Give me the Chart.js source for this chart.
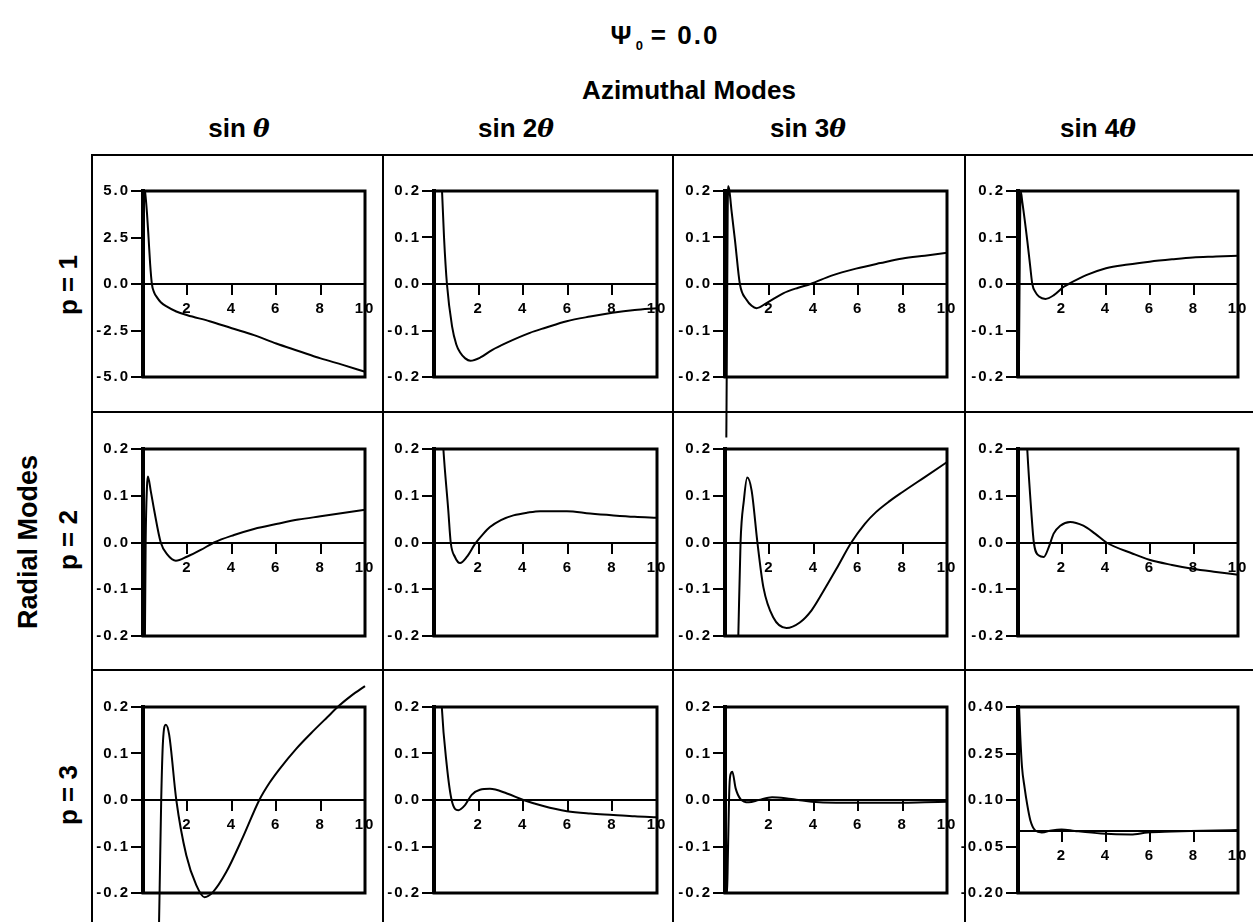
<!DOCTYPE html>
<html>
<head>
<meta charset="utf-8">
<script src="https://cdn.jsdelivr.net/npm/chart.js@4.4.0/dist/chart.umd.min.js"></script>
<style>
  html, body { margin: 0; padding: 0; background: #fff; overflow: hidden; }
  body { width: 1253px; height: 922px; position: relative; font-family: "Liberation Sans", Arial, sans-serif; font-weight: bold; color: #000; }
  .t { position: absolute; transform: translate(-50%, -50%); white-space: nowrap; font-size: 26px; }
  .v { position: absolute; transform: translate(-50%, -50%) rotate(-90deg); white-space: nowrap; font-size: 26px; }
  .t i { font-family: "DejaVu Serif", serif; font-size: 25px; }
  .t sub { font-size: 13px; vertical-align: -6px; margin-left: 2px; margin-right: 6px; }
  .hl { position: absolute; height: 2px; background: #000; z-index: 2; }
  .vl { position: absolute; width: 2px; background: #000; z-index: 2; }
  canvas { position: absolute; z-index: 1; }
</style>
</head>
<body>

<div class="t" style="left:665px; top:36px; letter-spacing:2px;">&Psi;<sub>0</sub>= 0.0</div>
<div class="t" style="left:689px; top:90px;">Azimuthal Modes</div>
<div class="t" style="left:239px; top:128px;">sin <i>&theta;</i></div>
<div class="t" style="left:516px; top:128px;">sin 2<i>&theta;</i></div>
<div class="t" style="left:808px; top:128px;">sin 3<i>&theta;</i></div>
<div class="t" style="left:1098px; top:128px;">sin 4<i>&theta;</i></div>
<div class="v" style="left:28px; top:542px; font-size:27px;">Radial Modes</div>
<div class="v" style="left:68px; top:285px;">p = 1</div>
<div class="v" style="left:68px; top:540px;">p = 2</div>
<div class="v" style="left:68px; top:795px;">p = 3</div>

<div class="hl" style="left:91px; top:154px; width:1162px;"></div>
<div class="hl" style="left:91px; top:411px; width:1162px;"></div>
<div class="hl" style="left:91px; top:669px; width:1162px;"></div>
<div class="vl" style="left:91px; top:154px; height:768px;"></div>
<div class="vl" style="left:382px; top:154px; height:768px;"></div>
<div class="vl" style="left:672px; top:154px; height:768px;"></div>
<div class="vl" style="left:964px; top:154px; height:768px;"></div>

<script>
// tick values
const xTicks = [2, 4, 6, 8, 10];
const yTicks5 = [-5, -2.5, 0, 2.5, 5];
const yTicks02 = [-0.2, -0.1, 0, 0.1, 0.2];
const yTicks04 = [-0.2, -0.05, 0.1, 0.25, 0.4];

// p = 1
const p1sin1X = [0.05, 0.1, 0.18, 0.25, 0.32, 0.4, 0.5, 0.63, 0.8, 1.08, 1.5, 2, 3, 4, 5, 6, 7, 8, 9, 10];
const p1sin1Y = [5.3, 4.9, 3.8, 2.5, 1.1, 0.0, -0.45, -0.72, -0.98, -1.22, -1.48, -1.68, -2.0, -2.38, -2.75, -3.2, -3.6, -4.0, -4.35, -4.72];
const p1sin2X = [0.3, 0.36, 0.45, 0.58, 0.81, 1.0, 1.18, 1.4, 1.63, 2.08, 2.6, 3.27, 4.3, 5.0, 5.95, 7.0, 8.0, 9.0, 10];
const p1sin2Y = [0.25, 0.2, 0.1, 0.0, -0.091, -0.13, -0.148, -0.16, -0.165, -0.158, -0.142, -0.126, -0.105, -0.094, -0.08, -0.07, -0.062, -0.056, -0.052];
const p1sin3X = [0.06, 0.09, 0.12, 0.15, 0.2, 0.3, 0.45, 0.67, 0.97, 1.2, 1.42, 1.87, 2.62, 3.3, 3.85, 4.8, 5.9, 7.0, 8.0, 9.0, 10];
const p1sin3Y = [-0.33, -0.1, 0.15, 0.21, 0.2, 0.155, 0.094, 0.0, -0.034, -0.047, -0.052, -0.041, -0.02, -0.008, 0.0, 0.018, 0.033, 0.045, 0.055, 0.061, 0.067];
const p1sin4X = [0.03, 0.08, 0.12, 0.2, 0.42, 0.55, 0.65, 0.8, 0.95, 1.25, 1.63, 2.08, 2.3, 3.1, 4.0, 5.0, 5.98, 7.0, 7.95, 9.0, 10];
const p1sin4Y = [-0.25, 0.05, 0.2, 0.175, 0.094, 0.04, 0.0, -0.018, -0.027, -0.032, -0.024, -0.006, 0.0, 0.019, 0.034, 0.042, 0.048, 0.053, 0.057, 0.059, 0.061];

// p = 2
const p2sin1X = [0.08, 0.12, 0.18, 0.22, 0.35, 0.5, 0.8, 1.1, 1.48, 2.0, 2.6, 3.2, 4.1, 5.0, 6.06, 7.0, 8.0, 9.0, 10];
const p2sin1Y = [-0.25, 0.0, 0.12, 0.141, 0.11, 0.07, 0.0, -0.026, -0.039, -0.03, -0.016, 0.0, 0.016, 0.029, 0.04, 0.049, 0.056, 0.063, 0.07];
const p2sin2X = [0.35, 0.42, 0.64, 0.75, 0.94, 1.17, 1.47, 1.84, 2.2, 2.51, 3.0, 3.56, 4.2, 4.76, 5.96, 7.0, 8.05, 9.0, 10];
const p2sin2Y = [0.26, 0.2, 0.069, 0.0, -0.031, -0.044, -0.031, -0.003, 0.018, 0.033, 0.048, 0.058, 0.064, 0.067, 0.067, 0.062, 0.058, 0.055, 0.053];
const p2sin3X = [0.55, 0.6, 0.7, 0.85, 1.0, 1.2, 1.46, 1.73, 2.17, 2.77, 3.37, 3.9, 4.41, 5.0, 5.69, 6.3, 6.8, 7.4, 8.0, 9.0, 10];
const p2sin3Y = [-0.3, -0.2, 0.0, 0.09, 0.139, 0.111, 0.0, -0.096, -0.16, -0.183, -0.171, -0.145, -0.106, -0.058, 0.0, 0.04, 0.065, 0.088, 0.108, 0.14, 0.172];
const p2sin4X = [0.35, 0.42, 0.6, 0.72, 0.95, 1.17, 1.4, 1.62, 1.92, 2.37, 2.97, 3.5, 4.02, 5.22, 5.97, 7.0, 7.93, 9.0, 10];
const p2sin4Y = [0.27, 0.2, 0.069, 0.0, -0.028, -0.031, -0.01, 0.019, 0.036, 0.044, 0.036, 0.019, 0.0, -0.024, -0.037, -0.048, -0.056, -0.063, -0.069];

// p = 3
const p3sin1X = [0.69, 0.75, 0.82, 0.9, 1.03, 1.18, 1.5, 1.95, 2.4, 2.77, 3.15, 3.75, 4.5, 5.24, 5.7, 6.14, 6.9, 7.64, 8.3, 8.84, 9.4, 10];
const p3sin1Y = [-0.35, -0.191, 0.0, 0.126, 0.162, 0.14, 0.0, -0.119, -0.183, -0.209, -0.198, -0.155, -0.08, 0.0, 0.037, 0.066, 0.11, 0.147, 0.178, 0.203, 0.225, 0.245];
const p3sin2X = [0.3, 0.35, 0.57, 0.79, 1.09, 1.39, 1.69, 2.06, 2.51, 3.27, 4.01, 4.9, 5.96, 7.0, 8.05, 9.0, 10];
const p3sin2Y = [0.26, 0.2, 0.076, 0.0, -0.022, -0.011, 0.011, 0.022, 0.024, 0.014, 0.0, -0.013, -0.024, -0.029, -0.032, -0.035, -0.037];
const p3sin3X = [0.03, 0.06, 0.09, 0.13, 0.2, 0.27, 0.33, 0.48, 0.7, 1.07, 1.52, 2.12, 2.72, 3.3, 3.91, 5.0, 5.86, 7.0, 7.95, 9.0, 10];
const p3sin3Y = [0.0, -0.15, -0.205, -0.12, 0.03, 0.058, 0.061, 0.025, 0.002, -0.005, 0.0, 0.006, 0.004, 0.0, -0.004, -0.006, -0.006, -0.006, -0.006, -0.005, -0.004];
const p3sin4X = [0.02, 0.1, 0.18, 0.3, 0.41, 0.56, 0.78, 1.08, 1.53, 1.98, 2.58, 3.78, 5.13, 5.89, 7.0, 7.84, 9.0, 10];
const p3sin4Y = [0.45, 0.31, 0.208, 0.14, 0.089, 0.035, 0.002, -0.005, 0.002, 0.005, 0.0, -0.008, -0.011, -0.005, -0.002, 0.0, 0.002, 0.003];

// layout (pixels)
const colEdges = [92, 383, 673, 965, 1253];
const rowEdges = [155, 412, 670, 922];
const boxLeft = [143, 434, 725, 1018];
const boxRight = [365, 657, 947, 1238];
const boxTop = [191, 449, 707];
const boxBottom = [377, 636, 893];
const M = 30;   // canvas margin around each cell
const YW = 70;  // y axis width

const tickFont = { family: "'Liberation Sans', Arial, sans-serif", size: 15, weight: 'bold' };

const frame = {
  id: 'frame',
  beforeUpdate(chart) { chart.ctx.letterSpacing = '2px'; },
  beforeDraw(chart) { chart.ctx.letterSpacing = '2px'; },
  afterDraw(chart) {
    const { ctx, chartArea: a } = chart;
    ctx.save();
    ctx.strokeStyle = '#000';
    ctx.lineWidth = 3;
    ctx.strokeRect(a.left, a.top, a.right - a.left, a.bottom - a.top);
    ctx.restore();
  }
};

function makePanel(r, c, xs, ys, yTicks, digits, clip) {
  const canvas = document.createElement('canvas');
  const left = colEdges[c] - M, top = rowEdges[r] - M;
  const w = colEdges[c + 1] - colEdges[c] + 2 * M;
  const h = rowEdges[r + 1] - rowEdges[r] + 2 * M;
  canvas.width = w;
  canvas.height = h;
  canvas.style.left = left + 'px';
  canvas.style.top = top + 'px';
  document.body.appendChild(canvas);

  new Chart(canvas, {
    type: 'line',
    data: {
      datasets: [{
        data: xs.map((x, i) => ({ x: x, y: ys[i] })),
        borderColor: '#000',
        borderWidth: 2,
        pointRadius: 0,
        cubicInterpolationMode: 'monotone',
        fill: false,
        clip: clip
      }]
    },
    options: {
      responsive: false,
      animation: false,
      events: [],
      layout: {
        padding: {
          left: boxLeft[c] - left - YW,
          right: left + w - boxRight[c],
          top: boxTop[r] - top,
          bottom: top + h - boxBottom[r]
        }
      },
      plugins: { legend: { display: false }, tooltip: { enabled: false } },
      scales: {
        x: {
          type: 'linear',
          min: 0,
          max: 10,
          position: { y: 0 },
          afterBuildTicks: s => { s.ticks = xTicks.map(v => ({ value: v })); },
          grid: { drawOnChartArea: false, tickLength: 10, lineWidth: 2, color: '#000' },
          border: { color: '#000', width: 2 },
          ticks: { color: '#000', font: tickFont, padding: 6, maxRotation: 0, autoSkip: false }
        },
        y: {
          type: 'linear',
          min: yTicks[0],
          max: yTicks[yTicks.length - 1],
          afterBuildTicks: s => { s.ticks = yTicks.map(v => ({ value: v })); },
          afterFit: s => { s.width = YW; },
          grid: { drawOnChartArea: false, tickLength: 12, lineWidth: 2, color: '#000' },
          border: { color: '#000', width: 4 },
          ticks: { color: '#000', font: tickFont, padding: 1, callback: v => v.toFixed(digits) }
        }
      }
    },
    plugins: [frame]
  });
}

makePanel(0, 0, p1sin1X, p1sin1Y, yTicks5, 1, 1);
makePanel(0, 1, p1sin2X, p1sin2Y, yTicks02, 1, 1);
makePanel(0, 2, p1sin3X, p1sin3Y, yTicks02, 1, false);
makePanel(0, 3, p1sin4X, p1sin4Y, yTicks02, 1, 1);
makePanel(1, 0, p2sin1X, p2sin1Y, yTicks02, 1, 1);
makePanel(1, 1, p2sin2X, p2sin2Y, yTicks02, 1, 1);
makePanel(1, 2, p2sin3X, p2sin3Y, yTicks02, 1, 1);
makePanel(1, 3, p2sin4X, p2sin4Y, yTicks02, 1, 1);
makePanel(2, 0, p3sin1X, p3sin1Y, yTicks02, 1, false);
makePanel(2, 1, p3sin2X, p3sin2Y, yTicks02, 1, 1);
makePanel(2, 2, p3sin3X, p3sin3Y, yTicks02, 1, 1);
makePanel(2, 3, p3sin4X, p3sin4Y, yTicks04, 2, 1);
</script>
</body>
</html>
